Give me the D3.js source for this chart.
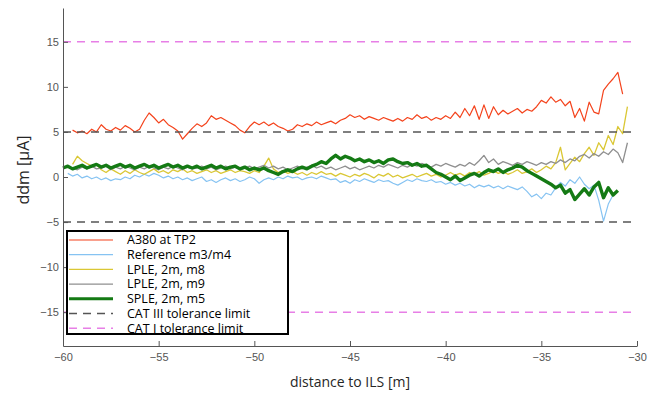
<!DOCTYPE html>
<html>
<head>
<meta charset="utf-8">
<script src="https://cdn.jsdelivr.net/npm/d3@7"></script>
<style>
  body { margin: 0; background: #fff; }
  svg { display: block; }
</style>
</head>
<body>
<div id="chart"></div>
<script>
// sample spacing along the distance axis (m)
const step = 0.25;

// A380 at TP2, starts at -59.5 m
const a380Start = -59.5;
const a380 = [
  5.2, 4.9, 5.1, 4.8,  5.3, 5.0, 5.8, 5.3,  5.1, 5.5, 5.2, 5.7,  5.4, 5.0, 5.3, 6.3,
  7.1, 6.6, 6.0, 6.4,  5.8, 5.5, 5.1, 4.2,  4.8, 5.4, 5.9, 5.6,  6.0, 6.8, 6.4, 6.6,
  6.3, 6.0, 5.7, 5.2,  4.9, 5.6, 6.1, 5.8,  6.1, 5.7, 6.0, 5.6,  5.4, 5.1, 5.3, 5.8,
  5.6, 5.9, 5.7, 6.1,  5.8, 6.0, 6.2, 5.9,  6.3, 6.5, 6.9, 6.6,  6.8, 6.4, 6.7, 6.5,
  6.3, 6.6, 6.4, 6.2,  6.5, 6.2, 6.6, 6.4,  6.9, 6.5, 6.7, 6.3,  6.6, 6.4, 6.8, 6.5,
  7.2, 6.6, 7.6, 6.8,  7.9, 6.4, 8.0, 6.5,  7.8, 6.9, 7.4, 7.0,  7.3, 7.6, 7.1, 7.5,
  7.3, 7.8, 8.5, 8.2,  8.9, 8.3, 8.6, 7.9,  8.4, 6.6, 7.6, 6.2,  8.3, 7.2, 7.0, 9.6,
  10.3, 10.9, 11.6, 9.2
];

// Reference m3/m4, starts at -59.75 m
const refStart = -59.75;
const reference = [
  0.4, 0.1, 0.3, -0.1,  0.1, -0.2, 0.0, -0.3,  -0.1, -0.4, -0.2, -0.3,  0.0, -0.2, 0.2, 0.0,
  0.3, 0.1, 0.4, 0.2,  -0.1, 0.1, -0.2, 0.0,  -0.3, -0.1, -0.4, -0.2,  0.0, -0.5, -0.3, -0.6,
  -0.3, -0.1, -0.4, -0.2,  -0.5, -0.3, 0.0, -0.2,  -0.7, -0.3, -0.1, -0.3,  0.0, -0.2, 0.1, -0.1,
  0.0, -0.3, -0.1, 0.0,  -0.2, 0.1, -0.1, -0.3,  -0.2, -0.6, -0.4, -0.7,  -0.3, -0.5, -0.2, -0.4,
  -0.6, -0.3, -0.5, -0.4,  -0.7, -0.9, -0.6, -0.3,  -0.5, -0.2, -0.4, -0.5,  -0.3, -0.6, -0.5, -0.8,
  -0.6, -0.9, -0.7, -1.0,  -0.8, -1.2, -0.9, -1.1,  -0.9, -1.2, -1.0, -1.3,  -1.0, -1.2, -1.4, -1.1,
  -1.6, -2.2, -1.9, -2.4,  -1.8, -2.0, -1.2, -0.6,  -1.0, -0.3, -0.7, 0.0,  -0.8, -1.3, -0.9, -2.6,
  -4.9, -3.0, -2.0
];

// LPLE, 2m, m8, starts at -59.5 m
const lpleM8Start = -59.5;
const lpleM8 = [
  1.4, 2.3, 1.8, 1.5,  1.2, 1.4, 0.8, 0.5,  0.9, 0.6, 0.3, 0.7,  0.4, 0.8, 0.5, 0.3,
  0.6, 0.9, 0.5, 0.7,  0.4, 0.8, 0.6, 0.9,  0.5, 0.7, 0.4, 0.6,  0.8, 0.5, 0.7, 0.4,
  0.6, 0.8, 0.5, 0.7,  0.6, 0.4, 0.7, 0.5,  1.2, 2.1, 0.9, 0.5,  0.7, 0.4, 0.6, 0.3,
  0.5, 0.2, 0.5, 0.3,  0.6, 0.3, 0.4, 0.1,  0.4, 0.2, 0.0, 0.3,  0.1, 0.4, 0.2, -0.1,
  0.3, 0.1, 0.4, 0.0,  0.2, -0.1, 0.1, 0.3,  0.0, 0.2, 0.4, 0.1,  0.3, 0.0, 0.2, 0.5,
  0.2, 0.4, 0.1, 0.5,  0.3, 0.6, 0.2, 0.4,  0.7, 0.4, 0.6, 0.3,  0.5, 0.8, 0.4, 0.6,
  0.9, 0.5, 0.8, 1.2,  0.9, 1.6, 3.3, 0.8,  1.5, 2.2, 1.7, 2.6,  3.3, 2.4, 3.8, 3.0,
  4.6, 3.6, 5.6, 4.8,  7.8
];

// LPLE, 2m, m9, starts at -59.5 m
const lpleM9Start = -59.5;
const lpleM9 = [
  1.0, 0.8, 1.1, 0.9,  1.2, 0.9, 1.0, 1.2,  0.8, 1.1, 0.9, 1.2,  1.0, 0.8, 1.1, 0.9,
  1.2, 1.0, 0.8, 1.1,  0.9, 1.2, 1.0, 0.8,  1.1, 0.9, 1.0, 1.2,  0.9, 1.1, 0.8, 1.0,
  1.2, 0.9, 1.1, 0.8,  1.0, 1.2, 0.9, 1.1,  1.3, 1.0, 1.2, 0.9,  1.1, 0.8, 1.0, 1.2,
  0.9, 1.1, 1.3, 1.0,  1.2, 0.9, 1.1, 0.8,  1.0, 1.2, 0.9, 1.1,  0.8, 1.0, 1.2, 1.0,
  1.3, 1.1, 1.4, 1.2,  1.0, 1.3, 1.1, 1.4,  1.2, 1.5, 1.3, 1.1,  1.4, 1.2, 1.5, 1.3,
  1.1, 1.4, 1.2, 1.6,  1.3, 1.8, 2.4, 1.6,  2.0, 1.4, 1.7, 1.5,  1.3, 1.6, 1.4, 1.7,
  1.5, 1.3, 1.6, 1.4,  1.7, 1.5, 1.9, 1.6,  2.0, 1.8, 2.3, 2.5,  2.1, 2.6, 2.3, 2.8,
  2.5, 3.1, 2.7, 1.6,  3.8
];

// SPLE, 2m, m5, starts at -60 m
const spleStart = -60;
const spleM5 = [
  1.0, 1.2, 0.9, 1.1,  1.3, 1.0, 1.2, 1.4,  1.1, 1.3, 1.0, 1.2,  1.4, 1.1, 1.3, 1.0,
  1.2, 1.4, 1.1, 1.3,  1.0, 1.2, 1.4, 1.1,  1.3, 1.0, 1.2, 1.0,  1.2, 0.9, 1.1, 1.3,
  1.0, 1.2, 0.9, 1.1,  1.2, 0.9, 1.1, 0.8,  1.0, 0.8, 1.0, 0.7,  0.5, 0.3, 0.6, 0.8,
  0.6, 0.9, 1.1, 0.9,  1.2, 1.4, 1.7, 1.5,  2.0, 2.4, 2.0, 2.3,  2.1, 1.8, 2.0, 1.7,
  1.9, 1.6, 1.8, 1.5,  1.9, 2.0, 1.7, 1.5,  1.6, 1.3, 1.5, 1.2,  1.3, 0.9, 0.5, 0.3,
  0.0, -0.3, 0.1, -0.4,  -0.1, 0.2, 0.4, 0.1,  0.5, 0.8, 0.6, 0.9,  0.5, 0.8, 1.0, 1.3,
  1.1, 0.7, 0.4, 0.1,  -0.2, -0.5, -0.8, -1.2,  -0.9, -1.8, -1.4, -2.5,  -1.9, -1.3, -2.0, -1.1,
  -0.6, -2.3, -1.2, -2.0,  -1.5
];

// tolerance limits (µA) and the distance span they are drawn over
const catIII = [5, -5];
const catI = [15, -15];
const limitSpan = [-60, -30.2];

const xTicks = [-60, -55, -50, -45, -40, -35, -30];
const yTicks = [-15, -10, -5, 0, 5, 10, 15];

const width = 657, height = 394;
const x = d3.scaleLinear().domain([-60, -30]).range([63, 637]);
const y = d3.scaleLinear().domain([-18.75, 18.75]).range([346, 8]);

const series = [
  { name: "A380 at TP2", start: a380Start, values: a380, color: "#f4431c", w: 1.2 },
  { name: "Reference m3/m4", start: refStart, values: reference, color: "#86c3f2", w: 1.2 },
  { name: "LPLE, 2m, m8", start: lpleM8Start, values: lpleM8, color: "#dac734", w: 1.3 },
  { name: "LPLE, 2m, m9", start: lpleM9Start, values: lpleM9, color: "#8f8f8f", w: 1.3 },
  { name: "SPLE, 2m, m5", start: spleStart, values: spleM5, color: "#147a14", w: 3.4 }
];
const limits = [
  { name: "CAT III tolerance limit", levels: catIII, color: "#555555" , w: 1.6 },
  { name: "CAT I tolerance limit", levels: catI, color: "#e77fe6", w: 1.4 }
];

const svg = d3.select("#chart").append("svg")
  .attr("width", width)
  .attr("height", height);

const line = d3.line()
  .x(d => x(d.dist))
  .y(d => y(d.ddm));

svg.append("g")
  .selectAll("path")
  .data(series)
  .join("path")
  .attr("fill", "none")
  .attr("stroke", d => d.color)
  .attr("stroke-width", d => d.w)
  .attr("stroke-linejoin", "round")
  .attr("d", d => line(d.values.map((v, i) => ({ dist: d.start + i * step, ddm: v }))));

// dashed limit lines sit on top of the traces
limits.forEach(l => {
  svg.append("g")
    .selectAll("line")
    .data(l.levels)
    .join("line")
    .attr("x1", x(limitSpan[0]))
    .attr("x2", x(limitSpan[1]))
    .attr("y1", d => y(d))
    .attr("y2", d => y(d))
    .attr("stroke", l.color)
    .attr("stroke-width", l.w)
    .attr("stroke-dasharray", "8,6");
});

// axes, ticks pointing inwards
const xAxis = svg.append("g")
  .attr("transform", `translate(0,${y(-18.75)})`)
  .call(d3.axisBottom(x).tickValues(xTicks).tickSizeInner(-5).tickSizeOuter(0).tickPadding(7));

const yAxis = svg.append("g")
  .attr("transform", `translate(${x(-60)},0)`)
  .call(d3.axisLeft(y).tickValues(yTicks).tickSizeInner(-5).tickSizeOuter(0).tickPadding(4));

[xAxis, yAxis].forEach(g => {
  g.select(".domain").attr("stroke", "#555");
  g.selectAll(".tick line").attr("stroke", "#555");
  g.selectAll(".tick text")
    .attr("fill", "#555")
    .style("font", "11px 'Liberation Sans', Arial, sans-serif");
});

svg.append("text")
  .attr("x", (x(-60) + x(-30)) / 2)
  .attr("y", 382)
  .attr("dy", "0.35em")
  .attr("text-anchor", "middle")
  .attr("fill", "#262626")
  .style("font", "14px 'Open Sans', sans-serif")
  .text("distance to ILS [m]");

svg.append("text")
  .attr("transform", "translate(23,170) rotate(-90)")
  .attr("dy", "0.35em")
  .attr("text-anchor", "middle")
  .attr("fill", "#262626")
  .style("font", "16px 'Open Sans', sans-serif")
  .text("ddm [\u03bcA]");

// legend
const legendItems = series.map(s => ({ name: s.name, color: s.color, w: Math.min(s.w, 3), dash: null }))
  .concat(limits.map(l => ({ name: l.name, color: l.color, w: l.w, dash: "8,6" })));

const legend = svg.append("g");
legend.append("rect")
  .attr("x", 67).attr("y", 231)
  .attr("width", 221).attr("height", 103)
  .attr("fill", "#fff")
  .attr("stroke", "#000")
  .attr("stroke-width", 2);

const rows = legend.selectAll("g.row")
  .data(legendItems)
  .join("g")
  .attr("class", "row")
  .attr("transform", (d, i) => `translate(0,${240 + i * 14.7})`);

rows.append("line")
  .attr("x1", 69).attr("x2", 113)
  .attr("stroke", d => d.color)
  .attr("stroke-width", d => d.w)
  .attr("stroke-dasharray", d => d.dash);

rows.append("text")
  .attr("x", 127)
  .attr("dy", "0.35em")
  .attr("fill", "#000")
  .style("font", "12.5px 'Open Sans', sans-serif")
  .text(d => d.name);
</script>
</body>
</html>
